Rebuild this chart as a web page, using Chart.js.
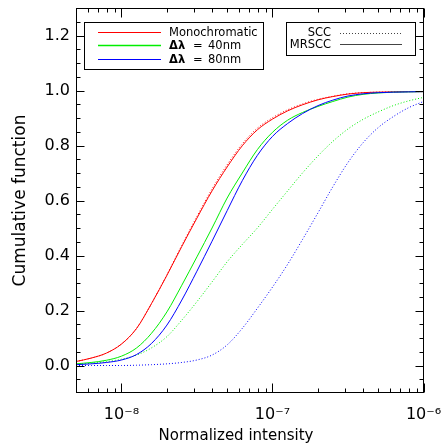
<!DOCTYPE html>
<html>
<head>
<meta charset="utf-8">
<script src="https://cdn.jsdelivr.net/npm/chart.js@4/dist/chart.umd.min.js"></script>
<style>
html,body{margin:0;padding:0;background:#fff;}
#wrap{width:444px;height:445px;position:relative;}
</style>
</head>
<body>
<div id="wrap"><canvas id="c" width="444" height="445"></canvas></div>
<script>
// Normalized intensity sample points (x)
const intensity = [5.0e-9, 6.31e-9, 7.94e-9, 1.0e-8, 1.26e-8, 1.58e-8, 2.0e-8, 2.51e-8, 3.16e-8, 3.98e-8, 5.01e-8, 6.31e-8, 7.94e-8, 1.0e-7, 1.26e-7, 1.58e-7, 2.0e-7, 2.51e-7, 3.16e-7, 3.98e-7, 5.01e-7, 6.31e-7, 7.94e-7, 1.0e-6];
// Cumulative function values
const monoMRSCC = [0.0145,0.027,0.045,0.078,0.135,0.225,0.328,0.433,0.536,0.635,0.722,0.799,0.857,0.896,0.926,0.948,0.966,0.978,0.987,0.992,0.994,0.995,0.996,0.996];
const monoSCC   = [0.0145,0.027,0.045,0.078,0.135,0.225,0.330,0.437,0.542,0.642,0.730,0.806,0.863,0.901,0.930,0.951,0.968,0.979,0.988,0.992,0.994,0.995,0.996,0.996];
const bw40MRSCC = [0.006,0.011,0.019,0.034,0.064,0.117,0.195,0.292,0.395,0.500,0.609,0.700,0.785,0.848,0.892,0.920,0.942,0.960,0.976,0.986,0.991,0.994,0.995,0.996];
const bw40SCC   = [0.004,0.008,0.014,0.023,0.038,0.064,0.105,0.165,0.232,0.304,0.377,0.440,0.500,0.568,0.635,0.700,0.762,0.815,0.860,0.895,0.922,0.945,0.962,0.975];
const bw80MRSCC = [0.003,0.006,0.011,0.020,0.040,0.080,0.147,0.238,0.343,0.452,0.563,0.672,0.764,0.833,0.880,0.916,0.945,0.965,0.980,0.988,0.992,0.994,0.995,0.996];
const bw80SCC   = [0,0,0,0,0.001,0.003,0.006,0.011,0.020,0.038,0.075,0.135,0.208,0.285,0.368,0.458,0.555,0.650,0.738,0.810,0.865,0.905,0.937,0.960];

// Axis ticks
const xMajorTicks = [1e-8, 1e-7, 1e-6];
const xTickLabels = ['10\u207B\u2078', '10\u207B\u2077', '10\u207B\u2076'];
const xMinorTicks = [5e-9,6e-9,7e-9,8e-9,9e-9,2e-8,3e-8,4e-8,5e-8,6e-8,7e-8,8e-8,9e-8,2e-7,3e-7,4e-7,5e-7,6e-7,7e-7,8e-7,9e-7];
const yMajorTicks = [0.0, 0.2, 0.4, 0.6, 0.8, 1.0, 1.2];
const yMinorTicks = [-0.05,0.05,0.1,0.15,0.25,0.3,0.35,0.45,0.5,0.55,0.65,0.7,0.75,0.85,0.9,0.95,1.05,1.1,1.15,1.25];

const xTitle = 'Normalized intensity';
const yTitle = 'Cumulative function';
const legendSeries = ['Monochromatic', '\u0394\u03BB = 40nm', '\u0394\u03BB = 80nm'];
const legendStyles = ['SCC', 'MRSCC'];

const RED = '#ff0000', GREEN = '#00ee00', BLUE = '#0000ff';
const FONT = 'DejaVu Sans';

function pts(ys){ return intensity.map((x,i)=>({x:x, y:ys[i]})); }
function ds(label, ys, color, dotted){
  return {label, data: pts(ys), borderColor: color, backgroundColor: color, borderWidth: 1,
    borderDash: dotted ? [1,2] : [], pointRadius: 0, cubicInterpolationMode: 'monotone', fill: false};
}

const framePlugin = {
  id: 'frame',
  afterDatasetsDraw(chart){
    const {ctx, chartArea: a, scales: {x, y}} = chart;
    ctx.save();
    ctx.strokeStyle = '#000';
    ctx.lineWidth = 1;
    const L = Math.round(a.left)+0.5, R = Math.round(a.right)-0.5, T = Math.round(a.top)+0.5, B = Math.round(a.bottom)-0.5;
    ctx.strokeRect(L, T, R-L, B-T);
    ctx.beginPath();
    const tick = (vals, len, axis) => vals.forEach(v => {
      if (axis === 'x') {
        const p = Math.round(x.getPixelForValue(v)) + 0.5;
        ctx.moveTo(p, B); ctx.lineTo(p, B-len);
        ctx.moveTo(p, T); ctx.lineTo(p, T+len);
      } else {
        const p = Math.round(y.getPixelForValue(v)) + 0.5;
        ctx.moveTo(L, p); ctx.lineTo(L+len, p);
        ctx.moveTo(R, p); ctx.lineTo(R-len, p);
      }
    });
    tick(xMajorTicks, 9, 'x');
    tick(xMinorTicks, 4, 'x');
    tick(yMajorTicks, 8, 'y');
    tick(yMinorTicks, 4, 'y');
    ctx.stroke();

    // X axis title (offset left as in the original)
    ctx.fillStyle = '#000';
    ctx.font = '15px "' + FONT + '"';
    ctx.textAlign = 'center';
    ctx.textBaseline = 'middle';
    ctx.fillText(xTitle, 236, 436);
    ctx.textAlign = 'left';

    // Legend 1
    ctx.fillStyle = '#fff';
    ctx.fillRect(84.5, 22.5, 179, 47);
    ctx.lineWidth = 1;
    ctx.strokeStyle = '#000';
    ctx.strokeRect(84.5, 22.5, 179, 47);
    const cols = [RED, GREEN, BLUE];
    const rows = [32.5, 45.5, 59.5];
    ctx.textBaseline = 'middle';
    ctx.fillStyle = '#000';
    rows.forEach((ry, i) => {
      ctx.beginPath();
      ctx.strokeStyle = cols[i];
      ctx.lineWidth = i === 1 ? 1.5 : 1;
      ctx.moveTo(98, ry); ctx.lineTo(161, ry); ctx.stroke();
      const txt = legendSeries[i];
      let tx = 169;
      if (i === 0) {
        ctx.font = '11.5px "' + FONT + '"';
        ctx.fillText(txt, tx, ry+0.5);
      } else {
        const bold = txt.slice(0,2), rest = txt.slice(2);
        ctx.font = 'bold 11.5px "' + FONT + '"';
        ctx.fillText(bold, tx, ry+0.5);
        ctx.font = '11.5px "' + FONT + '"';
        const parts = rest.trim().split(' ');
        ctx.fillText(parts[0], 193, ry+0.5);
        ctx.fillText(parts[1], 208, ry+0.5);
      }
    });

    // Legend 2
    ctx.fillStyle = '#fff';
    ctx.fillRect(286.5, 22.5, 129, 33);
    ctx.strokeStyle = '#000';
    ctx.lineWidth = 1;
    ctx.strokeRect(286.5, 22.5, 129, 33);
    ctx.fillStyle = '#000';
    ctx.font = '11.5px "' + FONT + '"';
    ctx.textAlign = 'right';
    ctx.fillText(legendStyles[0], 331, 33);
    ctx.fillText(legendStyles[1], 331, 45);
    ctx.strokeStyle = '#444';
    ctx.setLineDash([1,2]);
    ctx.beginPath(); ctx.moveTo(340, 33.5); ctx.lineTo(402, 33.5); ctx.stroke();
    ctx.setLineDash([]);
    ctx.beginPath(); ctx.moveTo(340, 44.5); ctx.lineTo(402, 44.5); ctx.stroke();
    ctx.restore();
  }
};

new Chart(document.getElementById('c'), {
  type: 'line',
  data: {
    datasets: [
      ds('80nm MRSCC', bw80MRSCC, BLUE, false),
      ds('40nm MRSCC', bw40MRSCC, GREEN, false),
      ds('Mono MRSCC', monoMRSCC, RED, false),
      ds('80nm SCC', bw80SCC, BLUE, true),
      ds('40nm SCC', bw40SCC, GREEN, true),
      ds('Mono SCC', monoSCC, RED, true)
    ]
  },
  options: {
    responsive: false,
    animation: false,
    devicePixelRatio: 1,
    layout: {padding: {left: 0, top: 8, right: 20.5, bottom: 0}},
    plugins: {legend: {display: false}, tooltip: {enabled: false}},
    scales: {
      x: {
        type: 'logarithmic',
        min: 5e-9, max: 1e-6,
        afterBuildTicks: s => { s.ticks = xMajorTicks.map(v => ({value: v})); },
        afterFit: s => { s.height = 52; s.paddingLeft = 0; s.paddingRight = 0; },
        grid: {display: false, drawTicks: false},
        border: {display: false},
        ticks: {
          autoSkip: false, maxRotation: 0, padding: 12, color: '#000',
          font: {family: FONT, size: 16},
          callback: (v) => { const i = xMajorTicks.indexOf(v); return i >= 0 ? xTickLabels[i] : ''; }
        },
        title: {display: false}
      },
      y: {
        min: -0.1, max: 1.3,
        afterBuildTicks: s => { s.ticks = yMajorTicks.map(v => ({value: v})); },
        afterFit: s => { s.width = 76; s.paddingTop = 0; s.paddingBottom = 0; },
        grid: {display: false, drawTicks: false},
        border: {display: false},
        ticks: {
          autoSkip: false, padding: 6, color: '#000',
          font: {family: FONT, size: 16},
          callback: (v) => v.toFixed(1)
        },
        title: {display: true, text: yTitle, color: '#000', font: {family: FONT, size: 17}, padding: {top: 10, bottom: 0}}
      }
    }
  },
  plugins: [framePlugin]
});
</script>
</body>
</html>
